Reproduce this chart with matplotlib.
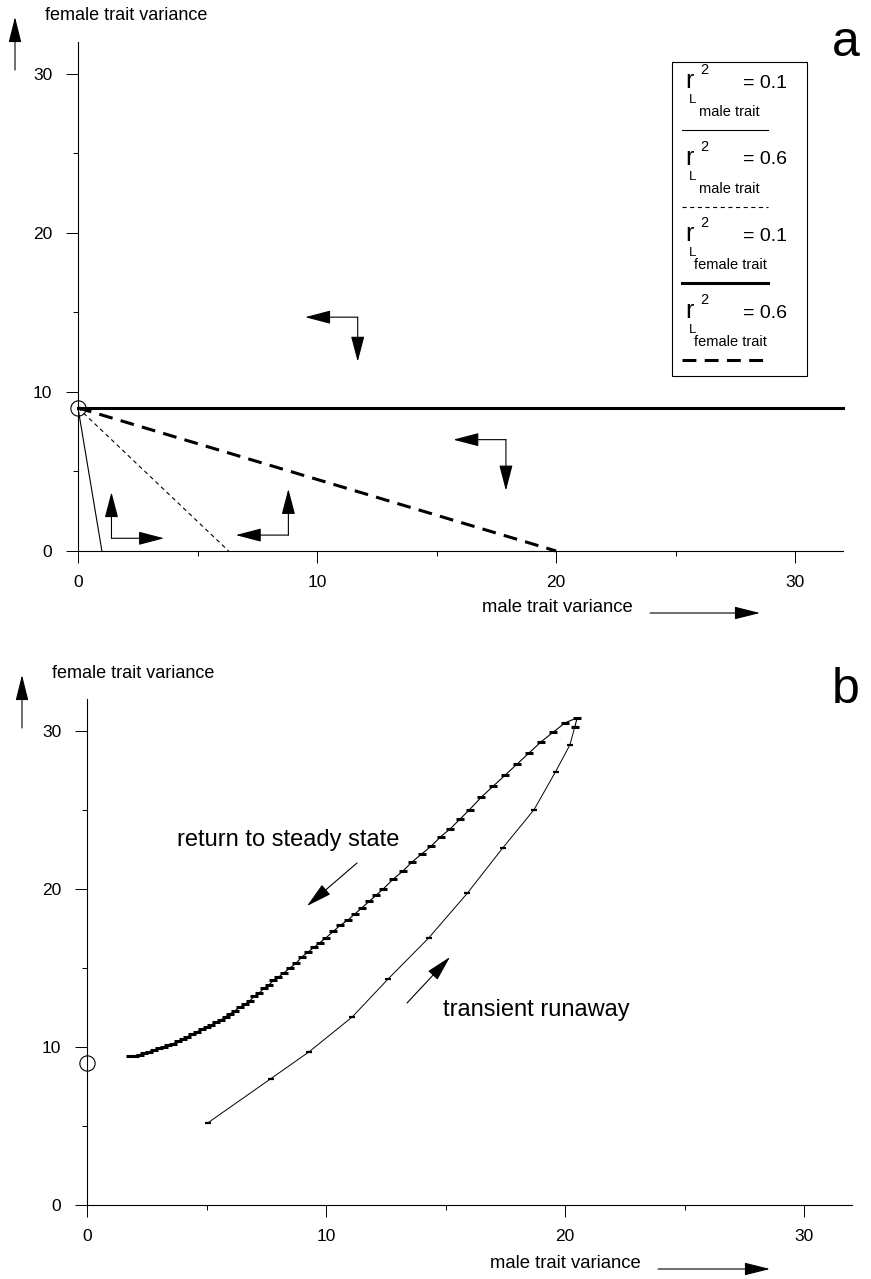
import numpy as np
import matplotlib
matplotlib.use("Agg")
import matplotlib.pyplot as plt
from matplotlib.lines import Line2D
from matplotlib.patches import Rectangle, FancyArrowPatch

plt.rcParams['font.family'] = ['Liberation Sans', 'DejaVu Sans']
plt.rcParams['lines.scale_dashes'] = False

W, H = 871, 1279

# ---- panel a data ----
steady_x, steady_y = 0.0, 9.0
male01_x = [0.0, 1.0]
male01_y = [9.0, 0.0]
male06_x = [0.0, 6.3]
male06_y = [9.0, 0.0]
fem01_x = [0.0, 32.0]
fem01_y = [9.0, 9.0]
fem06_x = [0.0, 20.0]
fem06_y = [9.0, 0.0]

# phase arrows: corner point, tip of horizontal arrow, tip of vertical arrow
corner_x = [1.4, 8.8, 11.7, 17.9]
corner_y = [0.8, 1.0, 14.7, 7.0]
tip_x = [3.6, 6.6, 9.5, 15.7]
tip_y = [3.7, 3.9, 11.9, 3.8]

legend_labels = ["male trait", "male trait", "female trait", "female trait"]
legend_values = ["= 0.1", "= 0.6", "= 0.1", "= 0.6"]

# ---- panel b data ----
runaway_x = [5.06, 7.7, 9.3, 11.1, 12.6, 14.3, 15.9, 17.4, 18.7, 19.6, 20.2, 20.4]
runaway_y = [5.2, 8.0, 9.7, 11.9, 14.3, 16.9, 19.7, 22.6, 25.0, 27.4, 29.1, 30.2]

return_x = [20.4, 20.5, 20.0, 19.5, 19.0, 18.5, 18.0, 17.5, 17.0, 16.5, 16.0, 15.6, 15.2,
            14.8, 14.4, 14.0, 13.6, 13.2, 12.8, 12.4, 12.1, 11.8, 11.5, 11.2, 10.9,
            10.6, 10.3, 10.0, 9.75, 9.5, 9.25, 9.0, 8.75, 8.5, 8.25, 8.0, 7.8, 7.6,
            7.4, 7.2, 7.0, 6.8, 6.6, 6.4, 6.2, 6.0, 5.8, 5.6, 5.4, 5.2, 5.0, 4.8,
            4.6, 4.4, 4.2, 4.0, 3.8, 3.6, 3.4, 3.2, 3.0, 2.8, 2.6, 2.4, 2.2, 2.0, 1.8]
return_y = [30.2, 30.8, 30.5, 29.9, 29.3, 28.6, 27.9, 27.2, 26.5, 25.8, 25.0, 24.4, 23.8,
            23.3, 22.7, 22.2, 21.7, 21.1, 20.6, 20.0, 19.6, 19.2, 18.8, 18.4, 18.0,
            17.7, 17.3, 16.9, 16.6, 16.3, 16.0, 15.7, 15.3, 15.0, 14.7, 14.4, 14.2, 13.9,
            13.7, 13.4, 13.2, 12.9, 12.7, 12.5, 12.3, 12.1, 11.9, 11.7, 11.55, 11.4, 11.25, 11.1,
            10.95, 10.8, 10.65, 10.5, 10.35, 10.2, 10.1, 10.0, 9.9, 9.8, 9.7, 9.6, 9.5, 9.45, 9.4]

major_ticks = [0, 10, 20, 30]
minor_ticks = [5, 15, 25]


def fx(x):
    return x / W


def fy(y):
    return 1 - y / H


def style_axes(ax):
    ax.set_xlim(0, 32)
    ax.set_ylim(0, 32)
    for s in ['top', 'right']:
        ax.spines[s].set_visible(False)
    for s in ['left', 'bottom']:
        ax.spines[s].set_linewidth(0.8)
    ax.set_xticks(major_ticks)
    ax.set_yticks(major_ticks)
    ax.set_xticks(minor_ticks, minor=True)
    ax.set_yticks(minor_ticks, minor=True)
    ax.tick_params(which='major', direction='out', length=8.5, width=0.7, labelsize=12.5)
    ax.tick_params(axis='x', which='major', pad=9)
    ax.tick_params(axis='y', which='major', pad=10)
    ax.tick_params(which='minor', direction='out', length=3.5, width=0.7)
    ax.set_facecolor('none')


def axis_arrow(x0, y0, x1, y1):
    fig.add_artist(FancyArrowPatch(
        (fx(x0), fy(y0)), (fx(x1), fy(y1)), transform=fig.transFigure,
        arrowstyle='-|>,head_length=1.6,head_width=0.4', mutation_scale=10,
        lw=0.8, color='k', shrinkA=0, shrinkB=0))


fig = plt.figure(figsize=(W / 100, H / 100), dpi=100)

# ================= panel a =================
ax = fig.add_axes([fx(78), fy(551), 765 / W, 509 / H])
style_axes(ax)

ax.plot(male01_x, male01_y, color='k', lw=0.8, clip_on=False)
ax.plot(male06_x, male06_y, color='k', lw=0.8, dashes=(3, 2.5), clip_on=False)
ax.plot(fem01_x, fem01_y, color='k', lw=2.2, clip_on=False)
ax.plot(fem06_x, fem06_y, color='k', lw=2.2, dashes=(10, 6), clip_on=False)
ax.plot([steady_x], [steady_y], 'o', ms=11, mfc='none', mec='k', mew=0.8, clip_on=False)

for cx, cy, hx, vy in zip(corner_x, corner_y, tip_x, tip_y):
    for tx, ty in [(hx, cy), (cx, vy)]:
        ax.annotate('', xy=(tx, ty), xytext=(cx, cy),
                    arrowprops=dict(arrowstyle='-|>,head_length=1.6,head_width=0.42',
                                    mutation_scale=10, lw=0.8, color='k',
                                    shrinkA=0, shrinkB=0))

# legend drawn by hand
fig.add_artist(Rectangle((fx(672), fy(376)), (807 - 672) / W, (376 - 62) / H,
                         transform=fig.transFigure, fill=False, lw=0.8, ec='k'))
leg_styles = [dict(lw=0.8), dict(lw=0.8, dashes=(3, 2.5)),
              dict(lw=2.2), dict(lw=2.2, dashes=(10, 6))]
for i in range(4):
    y0 = 70 + 76.7 * i
    fig.text(fx(689), fy(y0 + 11), "r", fontsize=18, ha='center', va='center')
    fig.text(fx(704), fy(y0), "2", fontsize=10.5, ha='center', va='center')
    fig.text(fx(693), fy(y0 + 30), "L", fontsize=9.5, ha='center', va='center')
    lx = 699 if i < 2 else 694
    fig.text(fx(lx), fy(y0 + 42), legend_labels[i], fontsize=10.5, ha='left', va='center')
    fig.text(fx(743), fy(y0 + 13), legend_values[i], fontsize=14, ha='left', va='center')
    fig.add_artist(Line2D([fx(682), fx(768)], [fy(y0 + 60), fy(y0 + 60)],
                          transform=fig.transFigure, color='k', **leg_styles[i]))

fig.text(fx(45), fy(15), "female trait variance", fontsize=13, ha='left', va='center')
axis_arrow(15, 70, 15, 17)
fig.text(fx(482), fy(608), "male trait variance", fontsize=13.3, ha='left', va='center')
axis_arrow(650, 613, 760, 613)
fig.text(fx(846), fy(43), "a", fontsize=36, ha='center', va='center')

# ================= panel b =================
bx = fig.add_axes([fx(87), fy(1205), 765 / W, 506 / H])
style_axes(bx)

bx.plot(runaway_x, runaway_y, color='k', lw=0.7, marker='_', ms=5, mew=1.6)
bx.plot(return_x, return_y, color='k', lw=0.8, marker='_', ms=5.5, mew=2.2)
bx.plot([steady_x], [steady_y], 'o', ms=11, mfc='none', mec='k', mew=0.8, clip_on=False)

fig.text(fx(177), fy(840), "return to steady state", fontsize=17, ha='left', va='center')
axis_arrow(357, 863, 307, 906)
fig.text(fx(443), fy(1010), "transient runaway", fontsize=17, ha='left', va='center')
axis_arrow(407, 1003, 450, 957)

fig.text(fx(52), fy(673), "female trait variance", fontsize=13, ha='left', va='center')
axis_arrow(22, 728, 22, 675)
fig.text(fx(490), fy(1263), "male trait variance", fontsize=13.3, ha='left', va='center')
axis_arrow(658, 1269, 770, 1269)
fig.text(fx(846), fy(690), "b", fontsize=36, ha='center', va='center')

fig.savefig("out.png", dpi=100)
